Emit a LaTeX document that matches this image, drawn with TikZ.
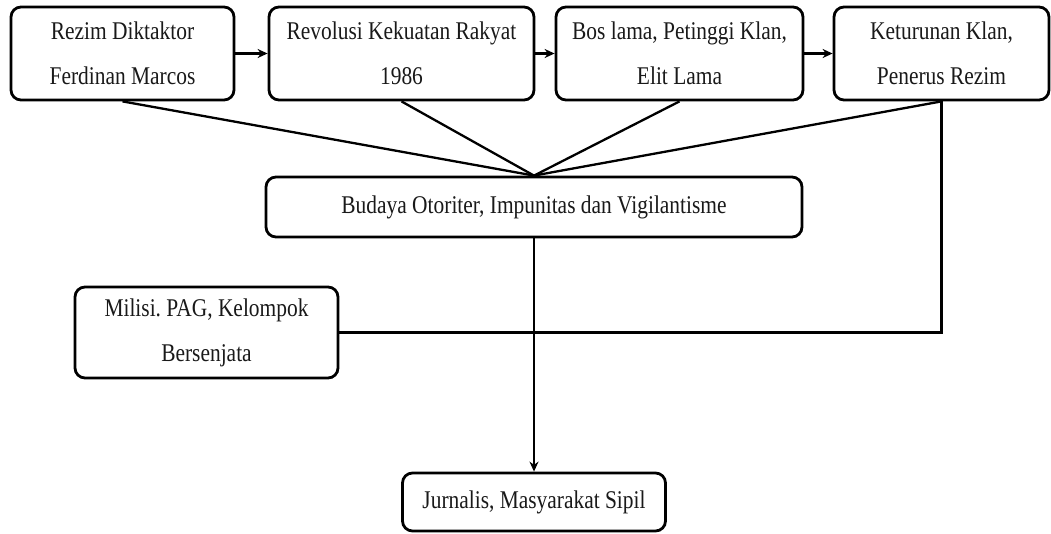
\documentclass[tikz,border=0pt]{standalone}
\usepackage{fontspec}
\setmainfont{Liberation Serif}[FakeStretch=0.84]
\usetikzlibrary{arrows.meta}
\frenchspacing
\begin{document}
\begin{tikzpicture}[x=1pt,y=-1pt,
  box/.style={draw,line width=2.8pt,rounded corners=10pt,align=center,inner sep=0pt,
    text=black!90,font=\fontsize{25.5}{45}\selectfont},
  link/.style={line width=2.3pt},
  arr/.style={link,-{Stealth[length=10pt,width=9pt]}}]
\useasboundingbox (0,0) rectangle (1051,533);
\node[box,minimum width=223pt,minimum height=93pt] (b1) at (122.5,53.5) {Rezim Diktaktor\\Ferdinan Marcos};
\node[box,minimum width=265pt,minimum height=93pt] (b2) at (401.5,53.5) {Revolusi Kekuatan Rakyat\\1986};
\node[box,minimum width=247pt,minimum height=93pt] (b3) at (679.5,53.5) {Bos lama, Petinggi Klan,\\Elit Lama};
\node[box,minimum width=215pt,minimum height=93pt] (b4) at (941.5,53.5) {Keturunan Klan,\\Penerus Rezim};
\node[box,minimum width=536pt,minimum height=60pt] (c) at (534,207) {Budaya Otoriter, Impunitas dan Vigilantisme};
\node[box,minimum width=263pt,minimum height=91pt] (m) at (206.5,332.5) {Milisi. PAG, Kelompok\\Bersenjata};
\node[box,minimum width=263pt,minimum height=58pt] (j) at (534,502) {Jurnalis, Masyarakat Sipil};
\coordinate (conv) at (c.north);
\coordinate (corner) at (b4.south |- m.east);
\draw[arr] (b1.east) -- (b2.west);
\draw[arr] (b2.east) -- (b3.west);
\draw[arr] (b3.east) -- (b4.west);
\draw[link] (b1.south) -- (conv);
\draw[link] (b2.south) -- (conv);
\draw[link] (b3.south) -- (conv);
\draw[link] (b4.south) -- (conv);
\draw[link] (b4.south) -- (corner) -- (m.east);
\draw[arr] (c.south) -- (j.north);
\end{tikzpicture}
\end{document}
